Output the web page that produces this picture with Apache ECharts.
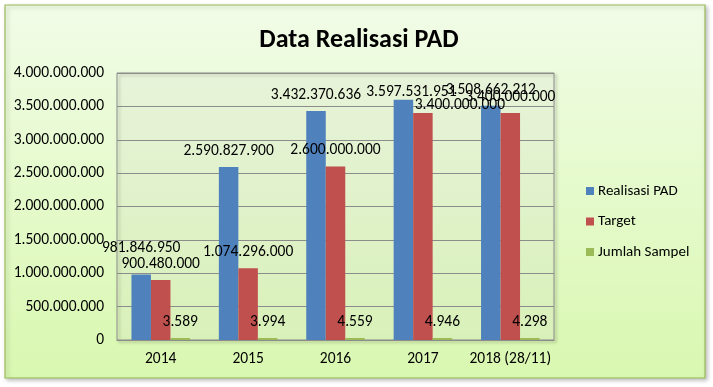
<!DOCTYPE html>
<html>
<head>
<meta charset="utf-8">
<script src="https://cdn.jsdelivr.net/npm/echarts@6/dist/echarts.min.js"></script>
<style>
html,body{margin:0;padding:0;background:#fff;}
#c{width:713px;height:387px;}
</style>
</head>
<body>
<div id="c"></div>
<script>
const categories = ['2014', '2015', '2016', '2017', '2018 (28/11)'];
const seriesNames = ['Realisasi PAD', 'Target', 'Jumlah Sampel'];
const realisasi = [981846950, 2590827900, 3432370636, 3597531951, 3508662212];
const target = [900480000, 1074296000, 2600000000, 3400000000, 3400000000];
const sampel = [3589, 3994, 4559, 4946, 4298];
const yTicks = { min: 0, max: 4000000000, interval: 500000000 };

const FONT = 'Carlito, Lato, "Open Sans", sans-serif';
const colors = ['#4f81bd', '#c0504d', '#9bbb59'];

function fmt(v) {
  return String(v).replace(/\B(?=(\d{3})+(?!\d))/g, '.');
}

// manual label nudges as in the source chart (series index -> data index -> [dx, dy])
const labelNudge = {
  0: { 0: [0, -10], 3: [8, 8] },
  1: { 3: [37, 8] }
};

function buildData(values, si) {
  return values.map((v, i) => {
    const n = labelNudge[si] && labelNudge[si][i];
    if (!n) return v;
    return { value: v, label: { offset: n } };
  });
}

const labelStyle = {
  show: true,
  position: 'top',
  distance: 8,
  color: '#000',
  fontFamily: FONT,
  fontSize: 15.5,
  formatter: p => fmt(p.value)
};

const chart = echarts.init(document.getElementById('c'), null, { renderer: 'canvas' });
chart.setOption({
  animation: false,
  textStyle: { fontFamily: FONT },
  graphic: [{
    type: 'rect',
    z: -10,
    silent: true,
    shape: { x: 5, y: 5, width: 700, height: 373 },
    style: {
      fill: new echarts.graphic.LinearGradient(0, 0, 0, 1, [
        { offset: 0, color: '#f1fce7' },
        { offset: 1, color: '#d9f8b0' }
      ]),
      stroke: '#9bbb59',
      lineWidth: 1.2,
      shadowBlur: 4,
      shadowOffsetX: 2,
      shadowOffsetY: 2,
      shadowColor: 'rgba(0,0,0,0.25)'
    }
  }],
  title: {
    text: 'Data Realisasi PAD',
    left: 354,
    textAlign: 'center',
    top: 22,
    textStyle: { fontFamily: FONT, fontSize: 26, fontWeight: 'bold', color: '#000' }
  },
  legend: {
    orient: 'vertical',
    left: 581,
    top: 177,
    itemWidth: 8,
    itemHeight: 8,
    itemGap: 12.5,
    icon: 'rect',
    textStyle: { fontFamily: FONT, fontSize: 15, color: '#000', lineHeight: 18, padding: [0, 0, 0, -1] },
    data: seriesNames
  },
  grid: {
    left: 117,
    right: 159,
    top: 73,
    bottom: 47,
    show: true,
    borderColor: '#8c8c8c',
    borderWidth: 1,
    backgroundColor: 'rgba(255,255,255,0.12)',
    shadowColor: 'rgba(0,0,0,0.3)',
    shadowBlur: 3,
    shadowOffsetX: 2,
    shadowOffsetY: 2
  },
  xAxis: {
    type: 'category',
    data: categories,
    axisLine: { show: true, lineStyle: { color: '#8c8c8c' } },
    axisTick: { show: false },
    axisLabel: { color: '#000', fontFamily: FONT, fontSize: 15.5, margin: 11, interval: 0 }
  },
  yAxis: {
    type: 'value',
    min: yTicks.min,
    max: yTicks.max,
    interval: yTicks.interval,
    axisLine: { show: false },
    axisTick: { show: false },
    splitLine: { lineStyle: { color: '#8c8c8c', width: 1 } },
    axisLabel: { color: '#000', fontFamily: FONT, fontSize: 15.5, margin: 13, formatter: v => fmt(v) }
  },
  series: [
    { name: seriesNames[0], type: 'bar', data: buildData(realisasi, 0), barWidth: 19.5, barGap: '0%', itemStyle: { color: colors[0] }, label: labelStyle },
    { name: seriesNames[1], type: 'bar', data: buildData(target, 1), barWidth: 19.5, barGap: '0%', itemStyle: { color: colors[1] }, label: labelStyle },
    { name: seriesNames[2], type: 'bar', data: buildData(sampel, 2), barWidth: 19.5, barGap: '0%', barMinHeight: 2, itemStyle: { color: colors[2] }, label: labelStyle }
  ]
});
</script>
</body>
</html>
